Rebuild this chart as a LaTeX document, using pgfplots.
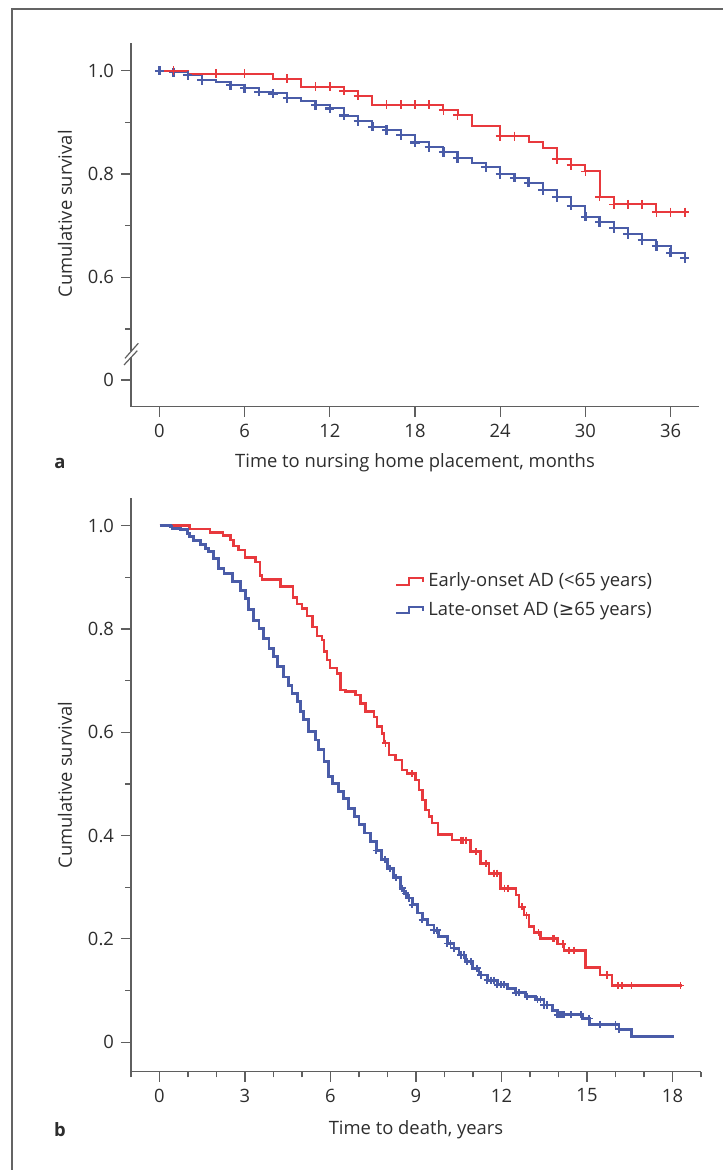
\documentclass[border=0pt]{standalone}
\usepackage{fontspec}
\setmainfont{Open Sans}
\newfontfamily\symfont{DejaVu Sans}
\usepackage{pgfplots}
\pgfplotsset{compat=1.18}

\definecolor{kmred}{RGB}{232,57,61}
\definecolor{kmblue}{RGB}{74,92,168}
\definecolor{axgray}{RGB}{95,95,95}
\definecolor{txtgray}{RGB}{45,45,45}
\newcommand\lab{\fontsize{9.2}{11}\selectfont}

\pgfplotsset{
  km/.style={
    scale only axis,
    clip=false,
    axis lines=left,
    axis line style={-, draw=axgray, line width=0.7pt},
    tick align=outside,
    major tick length=5pt,
    minor tick length=2.8pt,
    tick style={draw=axgray, line width=0.6pt},
    tick label style={font=\lab, text=txtgray},
    label style={font=\lab, text=txtgray},
    /pgf/number format/assume math mode=true,
    xlabel style={anchor=center},
    ylabel style={anchor=center, rotate=0},
  },
  steps/.style={const plot, line width=1pt, mark=none},
  cens/.style={only marks, mark=+, mark size=2.3pt, mark options={line width=0.9pt}},
}

\begin{document}
\begin{tikzpicture}
\useasboundingbox (0,0) rectangle (361.5pt,585pt);
\draw[draw={rgb,255:red,100;green,100;blue,100}, line width=1pt] (6.15pt,0) -- (6.15pt,580.5pt) -- (361.5pt,580.5pt);

% panel a
\begin{axis}[km,
  at={(65.5pt,381.65pt)}, anchor=south west,
  width=284pt, height=181.85pt,
  xmin=-2, xmax=38, ymin=0.3495, ymax=1.0536,
  xtick={0,6,...,36},
  ytick={0.4012,0.6,0.8,1.0}, yticklabels={0,0.6,0.8,1.0},
  minor ytick={0.5,0.7,0.9},
  xlabel={Time to nursing home placement, months},
  xlabel style={at={(axis description cs:0.5,-0.154)}},
  ylabel={Cumulative survival},
  ylabel style={at={(axis description cs:-0.1162,0.53)}},
]
\addplot[steps, kmblue] coordinates {
(0,1.0) (1,0.997) (2,0.991) (3,0.982) (4,0.978) (5,0.972) (6,0.966) (7,0.959)
(8,0.956) (9,0.9466) (10,0.941) (11,0.9336) (12,0.927) (13,0.913) (14,0.902)
(15,0.8916) (16,0.885) (17,0.875) (18,0.861) (19,0.8517) (20,0.8426) (21,0.831)
(22,0.8207) (23,0.8136) (24,0.800) (25,0.7928) (26,0.783) (27,0.769) (28,0.755)
(29,0.7386) (30,0.7173) (31,0.7065) (32,0.6955) (33,0.6833) (34,0.6722)
(35,0.6606) (36,0.6476) (37,0.6368)
};
\addplot[steps, kmred] coordinates {
(0,1.0) (2,0.994) (8,0.9845) (10,0.969) (13,0.961) (14,0.9516) (15,0.934)
(20,0.9233) (21,0.914) (22,0.8935) (24,0.873) (26,0.8625) (27,0.851)
(28,0.8285) (29,0.817) (30,0.805) (31,0.756) (32,0.741) (35,0.726) (37,0.726)
};
\addplot[cens, kmblue, mark options={line width=1.15pt}] coordinates {
(0,1.0) (1,0.997) (2,0.991) (3,0.982) (5,0.972) (6,0.966) (7,0.959)
(8,0.956) (9,0.9466) (11,0.9336) (12,0.927) (13,0.913) (14,0.902)
(15,0.8916) (16,0.885) (17,0.875) (18,0.861) (19,0.8517) (20,0.8426) (21,0.831)
(23,0.8136) (24,0.800) (25,0.7928) (26,0.783) (27,0.769) (28,0.755)
(29,0.7386) (30,0.7173) (31,0.7065) (32,0.6955) (33,0.6833) (34,0.6722)
(35,0.6606) (36,0.6476) (37,0.6368)
};
\addplot[cens, kmred, mark options={line width=0.85pt}] coordinates {
(1,1.0) (4,0.994) (6,0.994) (9,0.9845) (11,0.969) (12,0.969) (13,0.961)
(14,0.9516) (16,0.934) (17,0.934) (18,0.934) (19,0.934) (20,0.9233) (21,0.914)
(24,0.873) (25,0.873) (28,0.8285) (29,0.817) (30,0.805) (31,0.756) (32,0.741)
(33,0.741) (34,0.741) (35,0.726) (36,0.726) (37,0.726)
};
\end{axis}
% axis break
\fill[white] (63.5pt,406.25pt) rectangle (67.5pt,409.25pt);
\draw[axgray, line width=0.6pt] (62.5pt,405.85pt) -- (69.15pt,413.35pt);
\draw[axgray, line width=0.6pt] (62pt,402.5pt) -- (68.65pt,409.65pt);
\node[font=\lab\bfseries, text=txtgray] at (30pt,353.5pt) {a};

% panel b
\begin{axis}[km,
  at={(65.5pt,49.15pt)}, anchor=south west,
  width=285pt, height=286.7pt,
  xmin=-1, xmax=19, ymin=-0.0571, ymax=1.053,
  xtick={0,3,...,18}, minor xtick={-1,0,...,19},
  ytick={0,0.2,0.4,0.6,0.8,1.0}, yticklabels={0,0.2,0.4,0.6,0.8,1.0},
  minor ytick={0.1,0.3,0.5,0.7,0.9},
  xlabel={Time to death, years},
  xlabel style={at={(axis description cs:0.5,-0.1012)}},
  ylabel={Cumulative survival},
  ylabel style={at={(axis description cs:-0.1158,0.5)}},
  legend style={at={(axis cs:8.05,0.925)}, anchor=north west, draw=none, fill=none,
    font=\lab, text=txtgray, row sep=2pt},
  legend cell align=left,
  legend image code/.code={\draw[#1, line width=1pt] (0pt,-1.7pt) -- (6.5pt,-1.7pt) -- (6.5pt,1.7pt) -- (13.5pt,1.7pt) -- (13.5pt,-0.3pt);},
]
\addplot[steps, kmred, line width=1.25pt] coordinates {
(0,1.0) (1.06,0.9935) (1.77,0.987) (2.23,0.981) (2.49,0.972) (2.6,0.961)
(2.78,0.953) (3.0,0.938) (3.37,0.930) (3.52,0.904) (3.6,0.896) (4.25,0.882)
(4.69,0.861) (4.83,0.848) (5.0,0.840) (5.18,0.825) (5.36,0.804) (5.53,0.786)
(5.71,0.779) (5.77,0.756) (5.88,0.74) (5.98,0.724) (6.23,0.714) (6.35,0.682)
(6.53,0.679) (6.88,0.672) (7.05,0.656) (7.23,0.640) (7.52,0.630) (7.64,0.611)
(7.81,0.598) (7.87,0.579) (8.05,0.556) (8.28,0.546) (8.51,0.527) (8.69,0.520)
(8.99,0.508) (9.1,0.488) (9.22,0.469) (9.34,0.450) (9.45,0.437) (9.57,0.424)
(9.77,0.402) (10.27,0.391) (10.92,0.369) (11.27,0.346) (11.56,0.327)
(11.97,0.298) (12.5,0.285) (12.61,0.262) (12.79,0.246) (12.96,0.224)
(13.14,0.212) (13.37,0.201) (13.96,0.190) (14.19,0.178) (14.95,0.145)
(15.45,0.130) (15.88,0.110) (18.32,0.110)
};
\addlegendentry{Early-onset AD (<65 years)}
\addplot[steps, kmblue, line width=1.4pt] coordinates {
(0,1.0) (0.39,0.998) (0.44,0.995) (0.74,0.992) (0.99,0.985) (1.05,0.979)
(1.2,0.972) (1.44,0.964) (1.61,0.956) (1.73,0.950) (1.9,0.937) (2.08,0.917)
(2.26,0.908) (2.55,0.892) (2.84,0.875) (3.02,0.859) (3.13,0.837) (3.31,0.817)
(3.49,0.801) (3.66,0.782) (3.84,0.762) (4.01,0.746) (4.13,0.727) (4.36,0.707)
(4.54,0.691) (4.65,0.675) (4.83,0.659) (4.95,0.640) (5.06,0.624) (5.24,0.601)
(5.47,0.585) (5.59,0.566) (5.77,0.543) (5.94,0.514) (6.06,0.501) (6.29,0.485)
(6.47,0.472) (6.64,0.453) (6.85,0.437) (7.0,0.422) (7.2,0.405) (7.4,0.388)
(7.6,0.371) (7.8,0.354) (8.0,0.337) (8.2,0.319) (8.46,0.298) (8.58,0.288)
(8.69,0.279) (8.87,0.266) (9.04,0.250) (9.22,0.237) (9.4,0.227) (9.63,0.217)
(9.8,0.204) (10.1,0.191) (10.33,0.182) (10.51,0.169) (10.74,0.156)
(10.97,0.143) (11.21,0.130) (11.5,0.120) (11.85,0.111) (12.2,0.104)
(12.5,0.096) (12.85,0.088) (13.2,0.082) (13.49,0.072) (13.78,0.062)
(13.96,0.053) (14.83,0.046) (15.1,0.035) (16.12,0.025) (16.55,0.011)
(18.05,0.011)
};
\addlegendentry{Late-onset AD ({\symfont ≥}65 years)}
\addplot[cens, kmred, mark size=1.8pt, mark options={line width=0.85pt}, forget plot] coordinates {
(7.93,0.579) (8.85,0.520) (10.57,0.391) (10.65,0.391) (10.75,0.391)
(11.1,0.369) (11.45,0.346) (11.74,0.327) (11.85,0.327) (12.11,0.298)
(12.23,0.298) (12.72,0.262) (12.88,0.246) (13.3,0.212) (13.81,0.201)
(13.86,0.201) (14.15,0.190) (14.36,0.178) (14.54,0.178) (15.71,0.130)
(16.08,0.110) (16.23,0.110) (16.56,0.110) (18.28,0.110)
};
\addplot[cens, kmblue, mark size=1.8pt, mark options={line width=0.9pt}, forget plot] coordinates {
(7.6,0.371) (7.9,0.354) (8.1,0.337) (8.3,0.319) (8.52,0.298) (8.64,0.288)
(8.75,0.279) (8.87,0.266) (9.22,0.237) (9.63,0.217) (9.75,0.217) (10.1,0.191)
(10.21,0.191) (10.33,0.182) (10.57,0.169) (10.68,0.169) (10.8,0.156)
(10.92,0.156) (11.15,0.143) (11.27,0.130) (11.5,0.120) (11.62,0.120)
(11.73,0.120) (11.85,0.111) (11.97,0.111) (12.09,0.111) (12.5,0.096)
(12.61,0.096) (12.9,0.088) (13.26,0.082) (13.37,0.082) (13.49,0.072)
(13.6,0.072) (13.96,0.053) (14.02,0.053) (14.07,0.053) (14.13,0.053)
(14.19,0.053) (14.45,0.053) (14.78,0.053) (15.07,0.046) (15.45,0.035)
(16.0,0.035) (16.12,0.025)
};
\end{axis}
\node[font=\lab\bfseries, text=txtgray] at (30pt,20pt) {b};
\end{tikzpicture}
\end{document}
